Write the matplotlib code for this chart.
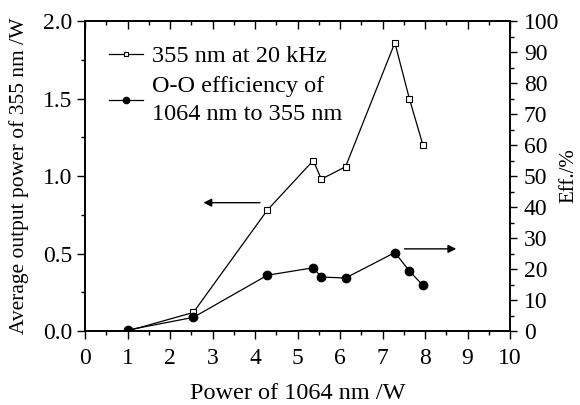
import matplotlib.pyplot as plt
from matplotlib.ticker import MultipleLocator

plt.rcParams['font.family'] = ['Liberation Serif', 'DejaVu Serif']

# data
pump = [1.0, 2.55, 4.29, 5.37, 5.56, 6.13, 7.29, 7.63, 7.95]
uv_power = [0.0, 0.12, 0.78, 1.10, 0.98, 1.06, 1.86, 1.50, 1.20]
eff = [0.3, 4.4, 18.0, 20.4, 17.4, 17.1, 25.3, 19.4, 14.7]

fig = plt.figure(figsize=(5.8, 4.05), dpi=100)
ax = fig.add_axes([0.1466, 0.1827, 0.7328, 0.7654])
ax2 = ax.twinx()

l1, = ax.plot(pump, uv_power, '-s', color='black', lw=0.9, ms=4.5,
              mfc='white', mec='black', mew=0.8, label='355 nm at 20 kHz')
l2, = ax2.plot(pump, eff, '-o', color='black', lw=0.9, ms=6,
               label='O-O efficiency of\n1064 nm to 355 nm')

ax.set_xlim(0, 10)
ax.set_ylim(0, 2.0)
ax2.set_ylim(0, 100)

ax.xaxis.set_major_locator(MultipleLocator(1))
ax.xaxis.set_minor_locator(MultipleLocator(0.5))
ax.yaxis.set_major_locator(MultipleLocator(0.5))
ax.yaxis.set_minor_locator(MultipleLocator(0.25))
ax2.yaxis.set_major_locator(MultipleLocator(10))
ax2.yaxis.set_minor_locator(MultipleLocator(5))
ax.yaxis.set_major_formatter(plt.FormatStrFormatter('%.1f'))

fs = 17
ax.tick_params(axis='x', which='both', direction='out', top=True, labelsize=fs, pad=6)
ax.tick_params(axis='y', which='both', direction='out', labelsize=fs, pad=3)
ax.tick_params(which='major', length=6, width=1)
ax.tick_params(which='minor', length=3, width=1)
ax2.tick_params(axis='y', which='both', direction='out', labelsize=fs, pad=5)
ax2.tick_params(which='major', length=5, width=1)
ax2.tick_params(which='minor', length=3, width=1)
# top ticks point inward
for t in ax.xaxis.get_major_ticks() + ax.xaxis.get_minor_ticks():
    t.tick2line.set_marker(3)

for a in (ax, ax2):
    for s in a.spines.values():
        s.set_linewidth(1.2)

ax.set_xlabel('Power of 1064 nm /W', fontsize=17.5, labelpad=10)
ax.set_ylabel('Average output power of 355 nm /W', fontsize=15.5, labelpad=10)
ax2.set_ylabel('Eff./%', fontsize=15, labelpad=0)

ax.annotate('', xy=(2.72, 0.828), xytext=(4.18, 0.828),
            arrowprops=dict(arrowstyle='-|>', color='black', lw=1,
                            mutation_scale=12))
ax2.annotate('', xy=(8.8, 26.5), xytext=(7.45, 26.5),
             arrowprops=dict(arrowstyle='-|>', color='black', lw=1,
                             mutation_scale=12))

leg = ax.legend(handles=[l1, l2], loc='upper left', frameon=False, fontsize=17.5,
                handlelength=1.4, handletextpad=0.35, labelspacing=0.35,
                markerscale=0.75, borderaxespad=0.5, borderpad=0.5)
for t in leg.get_texts():
    t.set_linespacing(1.45)

fig.savefig('out.png', dpi=100)
